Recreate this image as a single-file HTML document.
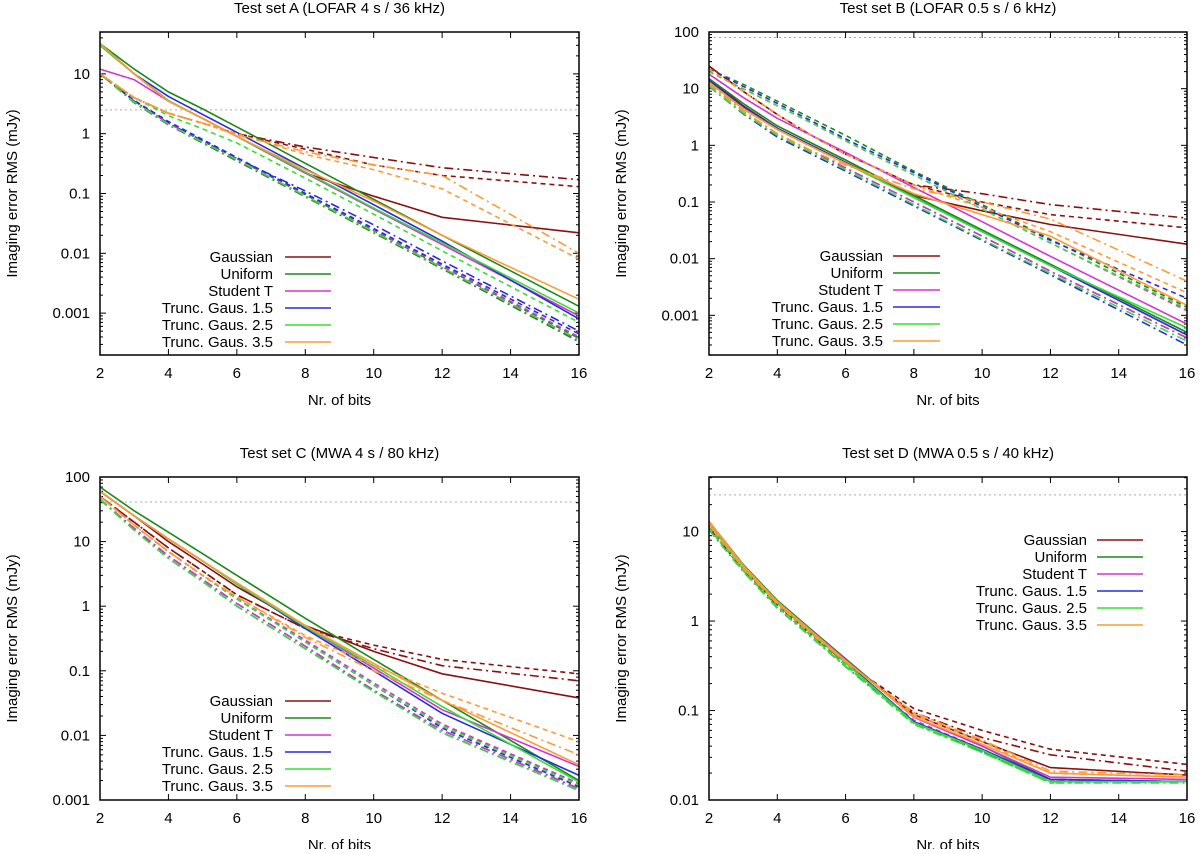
<!DOCTYPE html>
<html><head><meta charset="utf-8"><style>
body{margin:0;background:#fff;}
svg text{font-family:"Liberation Sans",sans-serif;fill:#000;}
</style></head><body>
<svg id="fig" width="1200" height="849" viewBox="0 0 1200 849" xmlns="http://www.w3.org/2000/svg"></svg>
<script>
const bits = [2,3,4,5,6,8,10,12,16];
const seriesNames = ["Gaussian","Uniform","Student T","Trunc. Gaus. 1.5","Trunc. Gaus. 2.5","Trunc. Gaus. 3.5"];
const xTicks = [2,4,6,8,10,12,14,16];
// Panel A values: [solid, dashed, dashdot] per distribution
const aGauss = [[32,10,3.5,1.8,0.9,0.22,0.09,0.04,0.022],[10,4,2.2,1.5,1.0,0.55,0.3,0.2,0.13],[10,4,2.2,1.5,1.0,0.6,0.4,0.27,0.17]];
const aUni = [[32,12,5,2.6,1.3,0.32,0.08,0.02,0.0013],[10,3.5,1.5,0.75,0.38,0.095,0.024,0.006,0.00038],[10,3.3,1.4,0.7,0.35,0.088,0.022,0.0055,0.00033]];
const aStu = [[12,8,3.5,1.8,0.9,0.22,0.055,0.014,0.0009],[10,3.6,1.5,0.78,0.39,0.1,0.025,0.0062,0.0004],[10,3.4,1.4,0.72,0.36,0.09,0.023,0.0057,0.00035]];
const aT15 = [[30,10,4.2,2.1,1.05,0.26,0.065,0.016,0.0008],[10,3.6,1.6,0.8,0.4,0.1,0.026,0.0066,0.00045],[10,3.5,1.5,0.76,0.38,0.11,0.03,0.0075,0.0005]];
const aT25 = [[30,10,3.6,1.8,0.9,0.23,0.057,0.015,0.001],[10,4,2.0,1.2,0.7,0.18,0.045,0.011,0.0007],[10,3.4,1.45,0.73,0.37,0.092,0.023,0.0058,0.00036]];
const aT35 = [[32,10,3.5,1.8,0.9,0.25,0.075,0.02,0.0017],[10,4,2.2,1.5,1.0,0.45,0.25,0.12,0.008],[10,4,2.2,1.5,0.95,0.5,0.3,0.2,0.01]];
// Panel B
const bGauss = [[15,5,2,1,0.5,0.13,0.07,0.04,0.018],[25,9,3.5,1.5,0.7,0.2,0.1,0.06,0.035],[25,9,3.5,1.5,0.7,0.2,0.14,0.09,0.052]];
const bUni = [[15,5.5,2.2,1.1,0.55,0.13,0.032,0.008,0.0005],[22,12,6,3,1.5,0.35,0.09,0.022,0.0014],[12,4,1.6,0.8,0.4,0.1,0.025,0.006,0.0004]];
const bStu = [[18,7,3,1.5,0.75,0.18,0.045,0.011,0.0007],[20,10,5,2.5,1.2,0.3,0.075,0.019,0.0012],[12,4,1.6,0.8,0.4,0.1,0.025,0.006,0.0004]];
const bT15 = [[14,4.8,2,1,0.5,0.12,0.03,0.0075,0.00045],[22,11,5.5,2.7,1.3,0.33,0.083,0.021,0.002],[11,3.6,1.4,0.7,0.35,0.085,0.021,0.0052,0.0003]];
const bT25 = [[13,4.4,1.9,0.95,0.48,0.12,0.03,0.0075,0.0006],[20,10,5,2.5,1.2,0.3,0.075,0.019,0.0013],[11,3.7,1.5,0.75,0.37,0.09,0.022,0.0055,0.00035]];
const bT35 = [[13,4.5,1.9,0.95,0.48,0.14,0.06,0.025,0.0015],[22,9,3.5,1.5,0.7,0.2,0.08,0.03,0.0025],[12,4,1.6,0.8,0.45,0.17,0.1,0.05,0.004]];
// Panel C
const cGauss = [[60,25,10,4.5,2,0.5,0.2,0.09,0.038],[50,20,8,3.5,1.5,0.45,0.25,0.15,0.09],[50,20,8,3.5,1.5,0.45,0.22,0.12,0.07]];
const cUni = [[70,30,14,6.5,3,0.65,0.15,0.035,0.002],[50,18,7,3,1.3,0.28,0.06,0.014,0.0018],[45,16,6,2.6,1.1,0.24,0.05,0.012,0.0015]];
const cStu = [[60,25,11,5,2.2,0.48,0.11,0.025,0.0033],[50,18,7,3,1.3,0.3,0.065,0.015,0.0018],[45,16,6,2.6,1.1,0.24,0.05,0.012,0.0015]];
const cT15 = [[60,25,11,5,2.2,0.45,0.1,0.022,0.0024],[50,18,7,3,1.3,0.28,0.06,0.013,0.0016],[45,15,5.5,2.4,1,0.22,0.048,0.011,0.0014]];
const cT25 = [[60,25,11,5,2.2,0.48,0.12,0.028,0.0019],[50,18,7,3,1.3,0.28,0.06,0.014,0.0017],[45,15,5.5,2.4,1,0.22,0.048,0.011,0.0014]];
const cT35 = [[60,25,11,5,2.3,0.5,0.13,0.035,0.0035],[50,18,7,3,1.4,0.35,0.12,0.045,0.008],[50,18,7,3,1.4,0.33,0.1,0.035,0.005]];
// Panel D
const dGauss = [[12,4,1.6,0.75,0.36,0.09,0.045,0.023,0.019],[11,3.8,1.5,0.7,0.34,0.105,0.06,0.037,0.025],[11,3.8,1.5,0.7,0.34,0.095,0.05,0.032,0.021]];
const dUni = [[13,4.3,1.7,0.8,0.38,0.085,0.04,0.017,0.016],[11,3.7,1.45,0.68,0.32,0.075,0.036,0.016,0.016],[10.5,3.6,1.4,0.66,0.31,0.073,0.035,0.016,0.016]];
const dStu = [[12,4.1,1.65,0.78,0.37,0.084,0.04,0.018,0.017],[11,3.7,1.45,0.68,0.32,0.078,0.037,0.017,0.016],[10.5,3.6,1.4,0.66,0.31,0.075,0.036,0.017,0.016]];
const dT15 = [[12,4,1.6,0.75,0.35,0.075,0.037,0.017,0.016],[11,3.7,1.45,0.68,0.32,0.072,0.035,0.016,0.016],[10.5,3.6,1.4,0.66,0.31,0.072,0.034,0.016,0.016]];
const dT25 = [[12,4,1.6,0.74,0.34,0.073,0.036,0.016,0.016],[11,3.7,1.45,0.68,0.32,0.072,0.034,0.0155,0.016],[10.5,3.6,1.4,0.66,0.31,0.07,0.034,0.0155,0.0155]];
const dT35 = [[13,4.2,1.65,0.77,0.36,0.085,0.042,0.02,0.018],[12,3.9,1.55,0.72,0.35,0.09,0.045,0.02,0.018],[12,3.9,1.55,0.72,0.35,0.095,0.047,0.021,0.019]];
const refLevels = [2.5, 80, 41, 25.7];

const colors = ["#8b1010","#1a8a1a","#d633d6","#2a2ae0","#33e033","#ff9a33"];
const dashes = [null,"5,4","9,4,2,4"];
const styleNames = ["solid","dashed","dashdot"];
const NS = "http://www.w3.org/2000/svg";
const svg = document.getElementById("fig");
function mk(tag, attrs, parent){const e=document.createElementNS(NS,tag);for(const k in attrs)e.setAttribute(k,attrs[k]);(parent||svg).appendChild(e);return e;}

const panels = [
 {key:"a",title:"Test set A (LOFAR 4 s / 36 kHz)",L:100,R:579,T:32,B:355,lmin:-3.7,lmax:1.7,yt:[-3,-2,-1,0,1],data:[aGauss,aUni,aStu,aT15,aT25,aT35],leg:{tx:273,lx1:285,lx2:331,ly:257}},
 {key:"b",title:"Test set B (LOFAR 0.5 s / 6 kHz)",L:709,R:1187,T:32,B:355,lmin:-3.7,lmax:2,yt:[-3,-2,-1,0,1,2],data:[bGauss,bUni,bStu,bT15,bT25,bT35],leg:{tx:883,lx1:893,lx2:940,ly:256}},
 {key:"c",title:"Test set C (MWA 4 s / 80 kHz)",L:100,R:579,T:477,B:800,lmin:-3,lmax:2,yt:[-3,-2,-1,0,1,2],data:[cGauss,cUni,cStu,cT15,cT25,cT35],leg:{tx:273,lx1:285,lx2:331,ly:701}},
 {key:"d",title:"Test set D (MWA 0.5 s / 40 kHz)",L:709,R:1187,T:477,B:800,lmin:-2,lmax:1.61,yt:[-2,-1,0,1],data:[dGauss,dUni,dStu,dT15,dT25,dT35],leg:{tx:1087,lx1:1097,lx2:1143,ly:540}}
];
function fmt(e){return e>=0?String(Math.pow(10,e)):(Math.pow(10,e)).toFixed(-e);}

panels.forEach((p,pi)=>{
  const g = mk("g",{});
  
  
  const xs = v=>p.L+(v-2)/14*(p.R-p.L);
  const ys = v=>p.B-(Math.log10(v)-p.lmin)/(p.lmax-p.lmin)*(p.B-p.T);
  const t = mk("text",{x:(p.L+p.R)/2,y:p.T-19,"text-anchor":"middle","font-size":"15"},g);
  t.textContent=p.title;
  
  
  // ref line
  const rl = mk("line",{x1:p.L,x2:p.R,y1:ys(refLevels[pi]),y2:ys(refLevels[pi]),stroke:"#aaa","stroke-width":1,"stroke-dasharray":"2,3"},g);
  
  
  // x ticks
  xTicks.forEach(v=>{
    const x=xs(v);
    mk("line",{x1:x,x2:x,y1:p.B,y2:p.B-6,stroke:"#000"},g);
    mk("line",{x1:x,x2:x,y1:p.T,y2:p.T+6,stroke:"#000"},g);
    const tl=mk("text",{x:x,y:p.B+23,"text-anchor":"middle","font-size":"15"},g);
    tl.textContent=v;
    
    
  });
  // y ticks
  for(let e=Math.floor(p.lmin);e<=Math.ceil(p.lmax);e++){
    for(let m=1;m<10;m++){
      const lv=e+Math.log10(m);
      if(lv<p.lmin-1e-9||lv>p.lmax+1e-9)continue;
      const y=p.B-(lv-p.lmin)/(p.lmax-p.lmin)*(p.B-p.T);
      const len=m===1?6:3;
      mk("line",{x1:p.L,x2:p.L+len,y1:y,y2:y,stroke:"#000"},g);
      mk("line",{x1:p.R,x2:p.R-len,y1:y,y2:y,stroke:"#000"},g);
    }
  }
  p.yt.forEach(e=>{
    const y=p.B-(e-p.lmin)/(p.lmax-p.lmin)*(p.B-p.T);
    const tl=mk("text",{x:p.L-10,y:y+5,"text-anchor":"end","font-size":"15"},g);
    tl.textContent=fmt(e);
    
    
  });
  // series
  p.data.forEach((dist,di)=>{
    dist.forEach((vals,si)=>{
      const pts = vals.map((v,i)=>xs(bits[i]).toFixed(1)+","+ys(v).toFixed(1)).join(" ");
      const a={points:pts,fill:"none",stroke:colors[di],"stroke-width":1.6};
      if(dashes[si])a["stroke-dasharray"]=dashes[si];
      const pl=mk("polyline",a,g);
      
      
    });
  });
  // frame
  const fr=mk("rect",{x:p.L,y:p.T,width:p.R-p.L,height:p.B-p.T,fill:"none",stroke:"#000","stroke-width":1.5},g);
  
  
  // legend
  seriesNames.forEach((n,i)=>{
    const y=p.leg.ly+i*17;
    const lt=mk("text",{x:p.leg.tx,y:y+5,"text-anchor":"end","font-size":"15"},g);
    lt.textContent=n;
    
    
    const ll=mk("line",{x1:p.leg.lx1,x2:p.leg.lx2,y1:y,y2:y,stroke:colors[i],"stroke-width":1.6},g);
    
    
  });
  // axis titles
  const xl=mk("text",{x:(p.L+p.R)/2,y:p.B+50,"text-anchor":"middle","font-size":"15"},g);
  xl.textContent="Nr. of bits";
  
  
  const cy=(p.T+p.B)/2, cx=p.L-83;
  const yl=mk("text",{x:cx,y:cy,"text-anchor":"middle","font-size":"15",transform:"rotate(-90 "+cx+" "+cy+")"},g);
  yl.textContent="Imaging error RMS (mJy)";
  
  
});
</script>
</body></html>
